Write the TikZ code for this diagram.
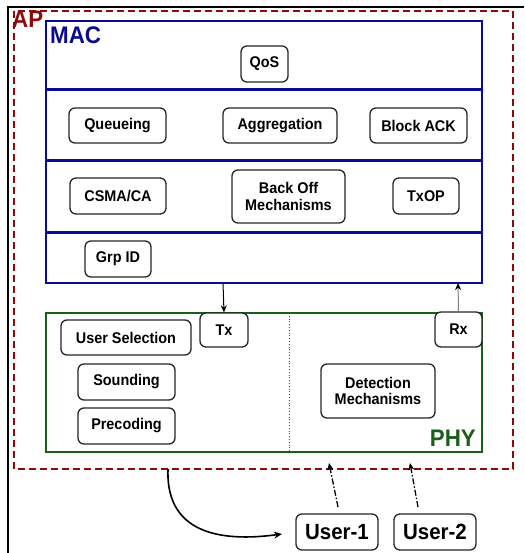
\documentclass[tikz,border=0pt]{standalone}
\usepackage{fontspec}
\setmainfont{Liberation Sans}[FakeStretch=0.93]
\usetikzlibrary{arrows.meta}
\definecolor{macblue}{RGB}{10,10,150}
\definecolor{apred}{RGB}{140,10,10}
\definecolor{phygreen}{RGB}{25,95,25}
\tikzset{
  blk/.style={draw=black!85, line width=1.3pt, rounded corners=6pt, fill=white,
    font=\fontsize{15.5}{16.5}\selectfont\bfseries, align=center, inner sep=0pt},
  usr/.style={blk, font=\fontsize{22}{23}\selectfont\bfseries},
  layer/.style={draw=macblue, line width=2.8pt},
  divline/.style={draw=macblue, line width=3pt},
  phyline/.style={draw=phygreen, line width=2.3pt},
  apline/.style={draw=apred, line width=2.5pt, dash pattern=on 7pt off 4pt},
  conn/.style={line width=1pt, -{Stealth[length=7pt,width=6pt]}},
  userconn/.style={line width=1.3pt, dash pattern=on 6pt off 2pt on 1.5pt off 2pt, -{Stealth[length=7pt,width=6pt]}},
  curve/.style={line width=1.6pt, -{Stealth[length=8pt,width=7pt]}},
  title/.style={inner sep=0pt, font=\bfseries}
}
\begin{document}
\begin{tikzpicture}[x=1pt,y=-1pt]
\useasboundingbox (0,0) rectangle (524,553);
% outer black frame (top and left only)
\draw[line width=2.8pt] (8,553) -- (8,7) -- (524,7);
% AP dashed region
\draw[apline] (14,11) rectangle (513,469);
\node[title, text=apred, font=\fontsize{24}{24}\selectfont\bfseries, anchor=north west] (ap) at (12,11) {AP};
% MAC layer
\draw[layer] (46,21) rectangle (482,283);
\draw[divline] (46,90) -- (482,90);
\draw[divline] (46,161) -- (482,161);
\draw[divline] (46,232) -- (482,232);
\coordinate (macS1) at (223,283);
\coordinate (macS2) at (458,283);
\node[title, text=macblue, font=\fontsize{24}{24}\selectfont\bfseries, anchor=north west] (mac) at (50,27) {MAC};
\node[blk, minimum width=47pt, minimum height=36pt] (qos) at (264.5,64) {QoS};
\node[blk, minimum width=97pt, minimum height=35pt] (queue) at (117.5,125.5) {Queueing};
\node[blk, minimum width=114pt, minimum height=35pt] (aggr) at (280,125.5) {Aggregation};
\node[blk, minimum width=97pt, minimum height=35pt] (back) at (418.5,125.5) {Block ACK};
\node[blk, minimum width=96pt, minimum height=36pt] (csma) at (118,196) {CSMA/CA};
\node[blk, minimum width=113pt, minimum height=53pt] (boff) at (288.5,196.5) {Back Off\\Mechanisms};
\node[blk, minimum width=66pt, minimum height=36pt] (txop) at (426,196) {TxOP};
\node[blk, minimum width=66pt, minimum height=36pt] (grp) at (118,259) {Grp ID};
% PHY layer
\draw[phyline] (46,313) rectangle (482,452);
\draw[draw=phygreen, line width=0.8pt, dotted] (289,313) -- (289,452);
\node[title, text=phygreen, font=\fontsize{24}{24}\selectfont\bfseries, anchor=south east] (phy) at (476,447) {PHY};
\node[blk, minimum width=48pt, minimum height=34pt] (tx) at (224,330) {Tx};
\node[blk, minimum width=47pt, minimum height=35pt] (rx) at (458.5,329.5) {Rx};
\node[blk, minimum width=130pt, minimum height=35pt] (usel) at (126,337.5) {User Selection};
\node[blk, minimum width=97pt, minimum height=36pt] (sound) at (126.5,382) {Sounding};
\node[blk, minimum width=97pt, minimum height=36pt] (prec) at (126.5,426) {Precoding};
\node[blk, minimum width=114pt, minimum height=54pt] (det) at (378,391) {Detection\\Mechanisms};
% users
\node[usr, minimum width=82pt, minimum height=36pt] (u1) at (337,532) {User-1};
\node[usr, minimum width=82pt, minimum height=36pt] (u2) at (435,532) {User-2};
% connectors
\draw[conn] (macS1) -- (tx.north);
\draw[line width=1pt, draw=black!50, -{Stealth[length=7pt,width=6pt,color=black]}] (rx.north) -- (macS2);
\coordinate (u1s) at (338,507);
\coordinate (u1e) at (329,463);
\coordinate (u2s) at (418,507);
\coordinate (u2e) at (410,463);
\draw[userconn] (u1s) -- (u1e);
\draw[userconn] (u2s) -- (u2e);
\coordinate (apb) at (168,469);
\coordinate (u1in) at (282,534);
\draw[curve] (apb) .. controls (166,520) and (200,545) .. (u1in);
\end{tikzpicture}
\end{document}
